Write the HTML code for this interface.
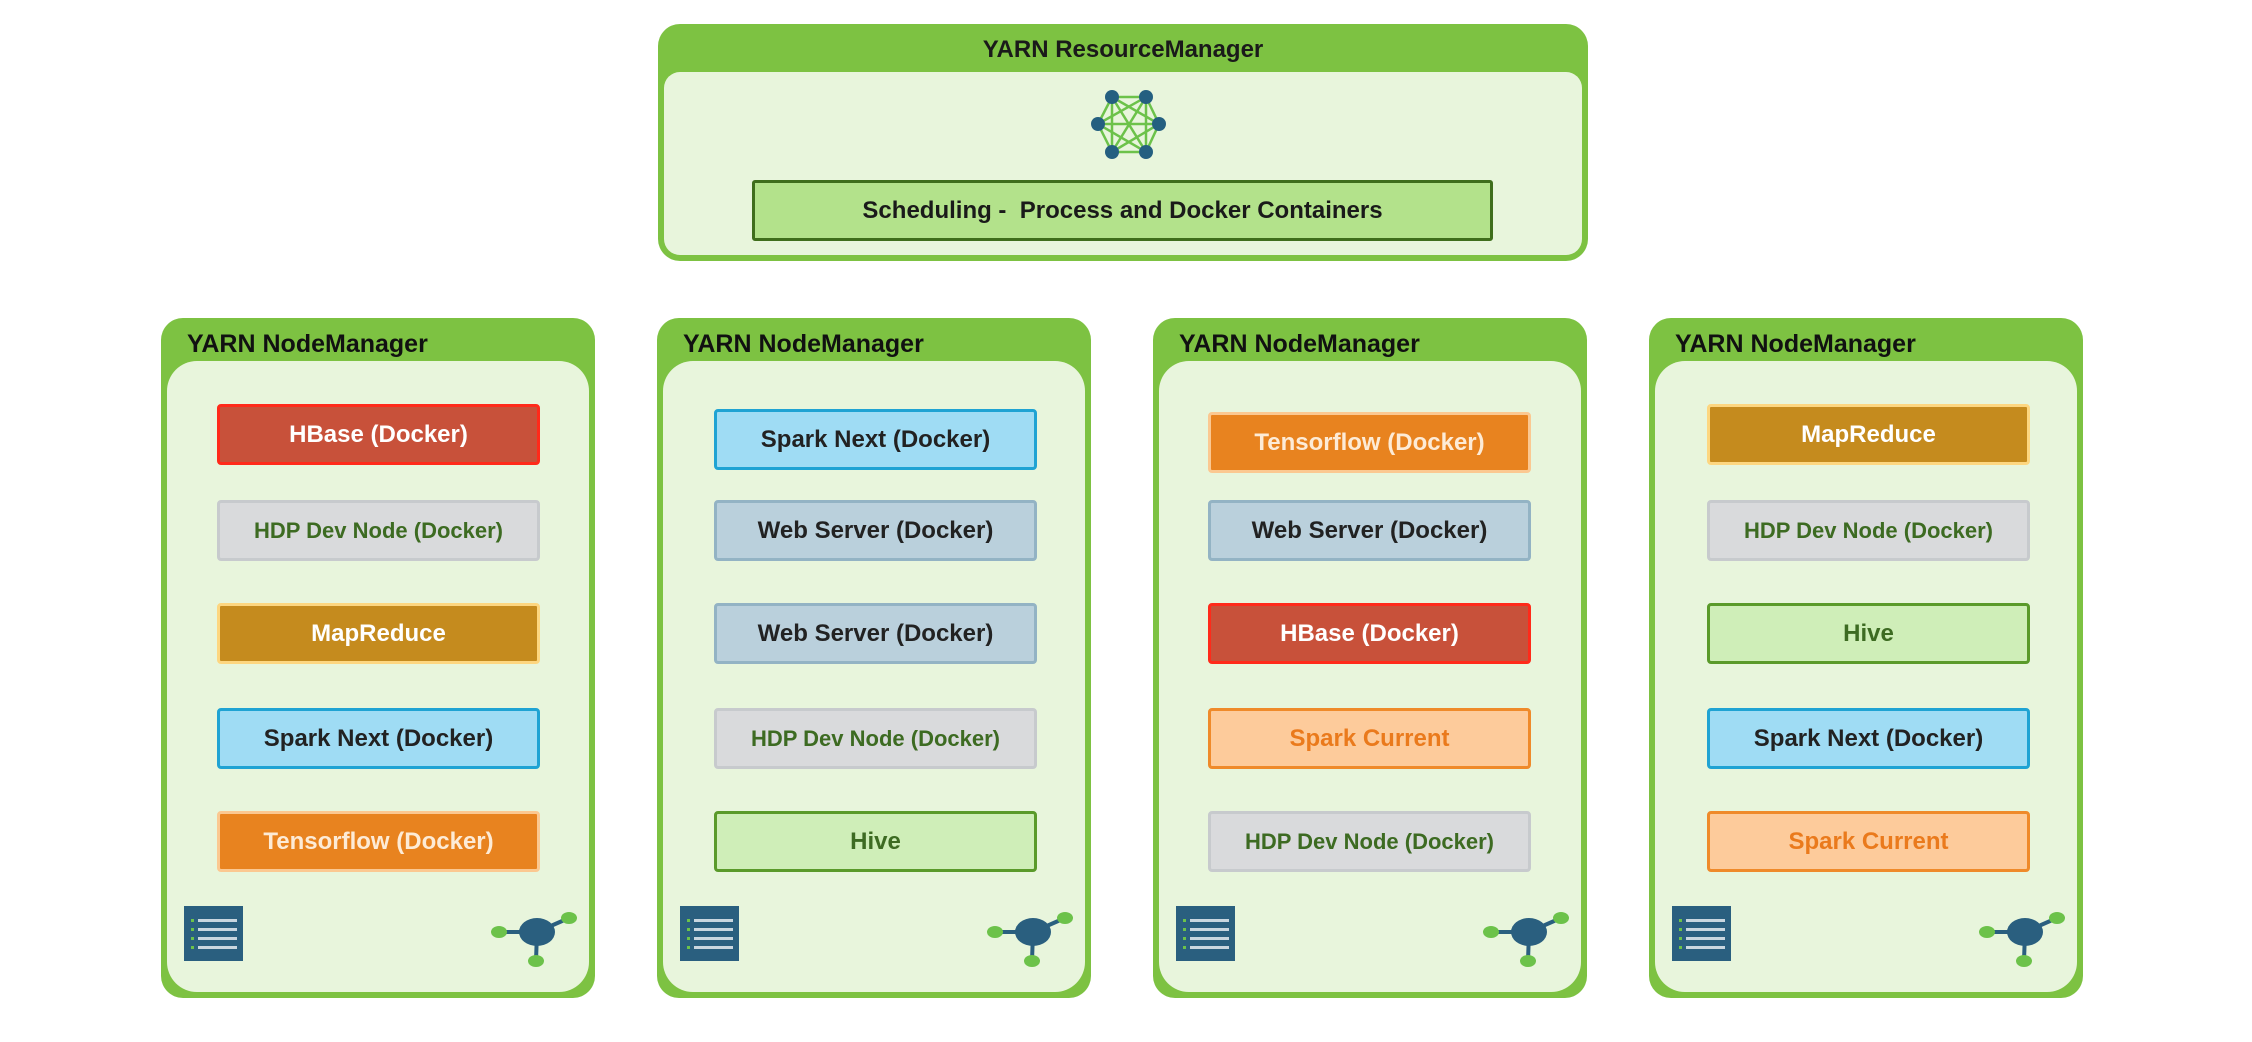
<!DOCTYPE html>
<html><head><meta charset="utf-8">
<style>
*{margin:0;padding:0;box-sizing:border-box}
body{width:2252px;height:1042px;background:#fff;position:relative;overflow:hidden;font-family:"Liberation Sans",sans-serif}
.abs{position:absolute}
.rm{left:658px;top:24px;width:930px;height:237px;background:#7dc242;border-radius:22px}
.rm .t{position:absolute;left:0;right:0;top:12px;text-align:center;font-weight:bold;font-size:24px;color:#1a1a1a}
.rm .in{position:absolute;left:6px;right:6px;top:48px;bottom:6px;background:#e8f5dc;border-radius:16px}
.sched{left:752px;top:180px;width:741px;height:61px;background:#b3e28b;border:3px solid #3f6e1c;border-radius:3px;text-align:center;line-height:55px;font-weight:bold;font-size:24px;color:#1a1a1a}
.nm{top:318px;width:434px;height:680px;background:#7dc242;border-radius:22px}
.nm .t{position:absolute;left:26px;top:12px;font-weight:bold;font-size:25px;color:#111}
.nm .in{position:absolute;left:6px;right:6px;top:43px;bottom:6px;background:#e8f5dc;border-radius:30px}
.it{position:absolute;width:323px;height:61px;border:3px solid;border-radius:4px;text-align:center;line-height:55px;font-weight:bold;font-size:24px}
.hb{background:#c8513a;border-color:#ff2a1a;color:#fff}
.hdp{background:#d9dadc;border-color:#c7cacd;color:#3d6b22;font-size:22px}
.mr{background:#c58b1e;border-color:#fdd680;color:#fff}
.sn{background:#9fdcf4;border-color:#1fa3d3;color:#222}
.tf{background:#e8831f;border-color:#fbc891;color:#fdebd6}
.ws{background:#bad0dc;border-color:#93b3c4;color:#222}
.hv{background:#cfeeb8;border-color:#5a9a2a;color:#3d6b22}
.sc{background:#fdcb9b;border-color:#ef8a2a;color:#ea7a1c}
</style></head><body>

<div class="abs rm"><div class="t">YARN ResourceManager</div><div class="in"></div></div>
<svg class="abs" style="left:1080px;top:80px" width="110" height="90" viewBox="1080 80 110 90">
<g stroke="#6cc24a" stroke-width="2.5">
<line x1="1112" y1="97" x2="1146" y2="97"/><line x1="1112" y1="97" x2="1098" y2="124"/><line x1="1112" y1="97" x2="1159" y2="124"/><line x1="1112" y1="97" x2="1112" y2="152"/><line x1="1112" y1="97" x2="1146" y2="152"/>
<line x1="1146" y1="97" x2="1098" y2="124"/><line x1="1146" y1="97" x2="1159" y2="124"/><line x1="1146" y1="97" x2="1112" y2="152"/><line x1="1146" y1="97" x2="1146" y2="152"/>
<line x1="1098" y1="124" x2="1159" y2="124"/><line x1="1098" y1="124" x2="1112" y2="152"/><line x1="1098" y1="124" x2="1146" y2="152"/>
<line x1="1159" y1="124" x2="1112" y2="152"/><line x1="1159" y1="124" x2="1146" y2="152"/><line x1="1112" y1="152" x2="1146" y2="152"/>
</g>
<g fill="#245f80"><circle cx="1112" cy="97" r="7"/><circle cx="1146" cy="97" r="7"/><circle cx="1098" cy="124" r="7"/><circle cx="1159" cy="124" r="7"/><circle cx="1112" cy="152" r="7"/><circle cx="1146" cy="152" r="7"/></g>
</svg>
<div class="abs sched">Scheduling -&nbsp; Process and Docker Containers</div>

<!-- NM1 -->
<div class="abs nm" style="left:161px"><div class="t">YARN NodeManager</div><div class="in"></div>
<div class="it hb" style="left:56px;top:86px">HBase (Docker)</div>
<div class="it hdp" style="left:56px;top:182px">HDP Dev Node (Docker)</div>
<div class="it mr" style="left:56px;top:285px">MapReduce</div>
<div class="it sn" style="left:56px;top:390px">Spark Next (Docker)</div>
<div class="it tf" style="left:56px;top:493px">Tensorflow (Docker)</div>
</div>
<!-- NM2 -->
<div class="abs nm" style="left:657px"><div class="t">YARN NodeManager</div><div class="in"></div>
<div class="it sn" style="left:57px;top:91px">Spark Next (Docker)</div>
<div class="it ws" style="left:57px;top:182px">Web Server (Docker)</div>
<div class="it ws" style="left:57px;top:285px">Web Server (Docker)</div>
<div class="it hdp" style="left:57px;top:390px">HDP Dev Node (Docker)</div>
<div class="it hv" style="left:57px;top:493px">Hive</div>
</div>
<!-- NM3 -->
<div class="abs nm" style="left:1153px"><div class="t">YARN NodeManager</div><div class="in"></div>
<div class="it tf" style="left:55px;top:94px">Tensorflow (Docker)</div>
<div class="it ws" style="left:55px;top:182px">Web Server (Docker)</div>
<div class="it hb" style="left:55px;top:285px">HBase (Docker)</div>
<div class="it sc" style="left:55px;top:390px">Spark Current</div>
<div class="it hdp" style="left:55px;top:493px">HDP Dev Node (Docker)</div>
</div>
<!-- NM4 -->
<div class="abs nm" style="left:1649px"><div class="t">YARN NodeManager</div><div class="in"></div>
<div class="it mr" style="left:58px;top:86px">MapReduce</div>
<div class="it hdp" style="left:58px;top:182px">HDP Dev Node (Docker)</div>
<div class="it hv" style="left:58px;top:285px">Hive</div>
<div class="it sn" style="left:58px;top:390px">Spark Next (Docker)</div>
<div class="it sc" style="left:58px;top:493px">Spark Current</div>
</div>

<!-- icons -->
<svg class="abs" style="left:0;top:0" width="2252" height="1042">
<defs>
<g id="db">
<rect x="0" y="0" width="59" height="55" fill="#2a5f7f"/>
<g fill="#6cc24a"><rect x="7" y="13" width="3" height="3"/><rect x="7" y="22" width="3" height="3"/><rect x="7" y="31" width="3" height="3"/><rect x="7" y="40" width="3" height="3"/></g>
<g fill="#c9d6df"><rect x="14" y="13" width="39" height="3"/><rect x="14" y="22" width="39" height="3"/><rect x="14" y="31" width="39" height="3"/><rect x="14" y="40" width="39" height="3"/></g>
</g>
<g id="hub">
<g stroke="#2a5f7f" stroke-width="4"><line x1="-38" y1="0" x2="0" y2="0"/><line x1="0" y1="0" x2="32" y2="-14"/><line x1="0" y1="0" x2="-1" y2="29"/></g>
<g fill="#6cc24a"><ellipse cx="-38" cy="0" rx="8" ry="6"/><ellipse cx="32" cy="-14" rx="8" ry="6"/><ellipse cx="-1" cy="29" rx="8" ry="6"/></g>
<ellipse cx="0" cy="0" rx="18" ry="14" fill="#2a5f7f"/>
</g>
</defs>
<use href="#db" x="184" y="906"/><use href="#hub" x="537" y="932"/>
<use href="#db" x="680" y="906"/><use href="#hub" x="1033" y="932"/>
<use href="#db" x="1176" y="906"/><use href="#hub" x="1529" y="932"/>
<use href="#db" x="1672" y="906"/><use href="#hub" x="2025" y="932"/>
</svg>
</body></html>
